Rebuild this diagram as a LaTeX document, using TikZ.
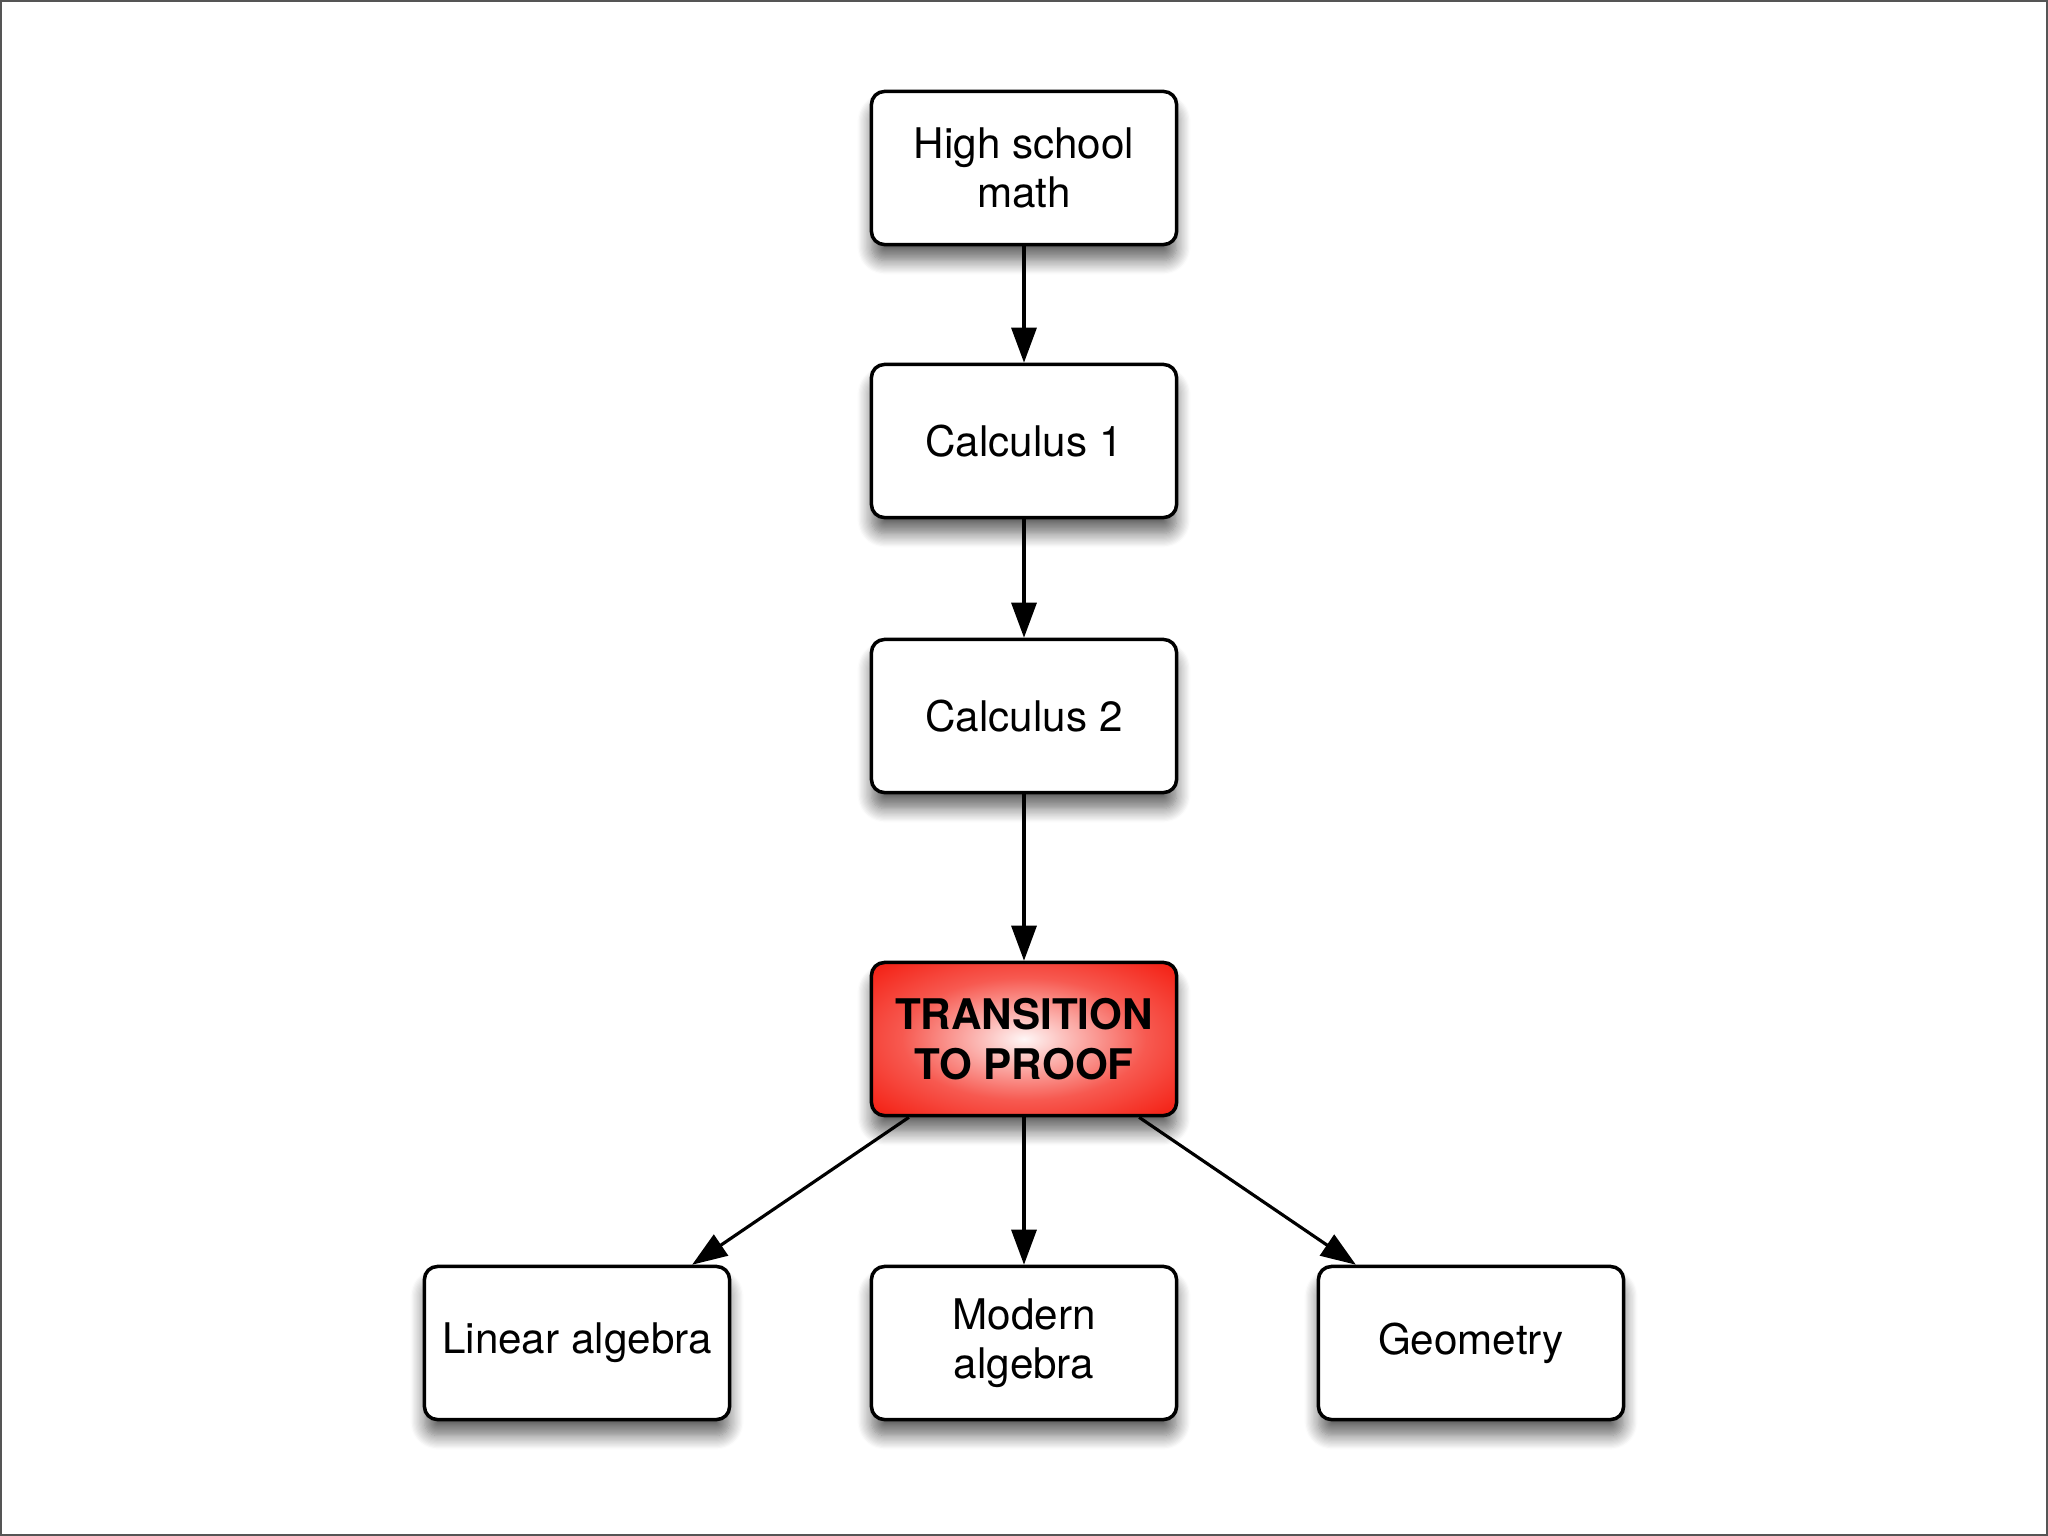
\documentclass[tikz,border=0pt]{standalone}
\usepackage{fontspec}
\setmainfont{TeX Gyre Heros}
\usetikzlibrary{arrows.meta,shadows.blur}
\definecolor{framegray}{RGB}{85,85,85}
\definecolor{proofred}{RGB}{244,34,22}
\pgfdeclareradialshading{proofglow}{\pgfpoint{0bp}{0bp}}{color(0bp)=(white!96!proofred); color(7bp)=(white!70!proofred); color(20bp)=(white!25!proofred); color(34bp)=(proofred); color(50bp)=(proofred)}

\begin{document}
\begin{tikzpicture}[x=0.01cm,y=-0.01cm,
    course/.style={draw,fill=white,line width=1pt,rounded corners=0.13cm,
      minimum width=3.05cm,minimum height=1.53cm,inner sep=0pt,align=center,
      font=\fontsize{12pt}{14pt}\selectfont,
      blur shadow={shadow xshift=0pt,shadow yshift=-0.16cm,shadow blur radius=0.14cm,
        shadow blur steps=12,shadow opacity=60}},
    keycourse/.style={course,shading=proofglow,font=\fontsize{12pt}{14pt}\selectfont\bfseries},
    link/.style={line width=0.9pt,-{Triangle[length=0.35cm,width=0.25cm]}}]
  \useasboundingbox (0,0) rectangle (2048,1536);
  \draw[framegray,line width=0.02cm] (1,1) rectangle (2047,1535);
  \node[course] (hs) at (1024,168) {High school\\math};
  \node[course] (calcone) at (1024,441) {Calculus 1};
  \node[course] (calctwo) at (1024,716) {Calculus 2};
  \node[keycourse] (proof) at (1024,1039) {TRANSITION\\TO PROOF};
  \node[course] (linalg) at (577,1343) {Linear algebra};
  \node[course] (modalg) at (1024,1343) {Modern\\algebra};
  \node[course] (geom) at (1471,1343) {Geometry};
  \draw[link] (hs) -- (calcone);
  \draw[link] (calcone) -- (calctwo);
  \draw[link] (calctwo) -- (proof);
  \draw[link] (proof) -- (linalg);
  \draw[link] (proof) -- (modalg);
  \draw[link] (proof) -- (geom);
\end{tikzpicture}
\end{document}
